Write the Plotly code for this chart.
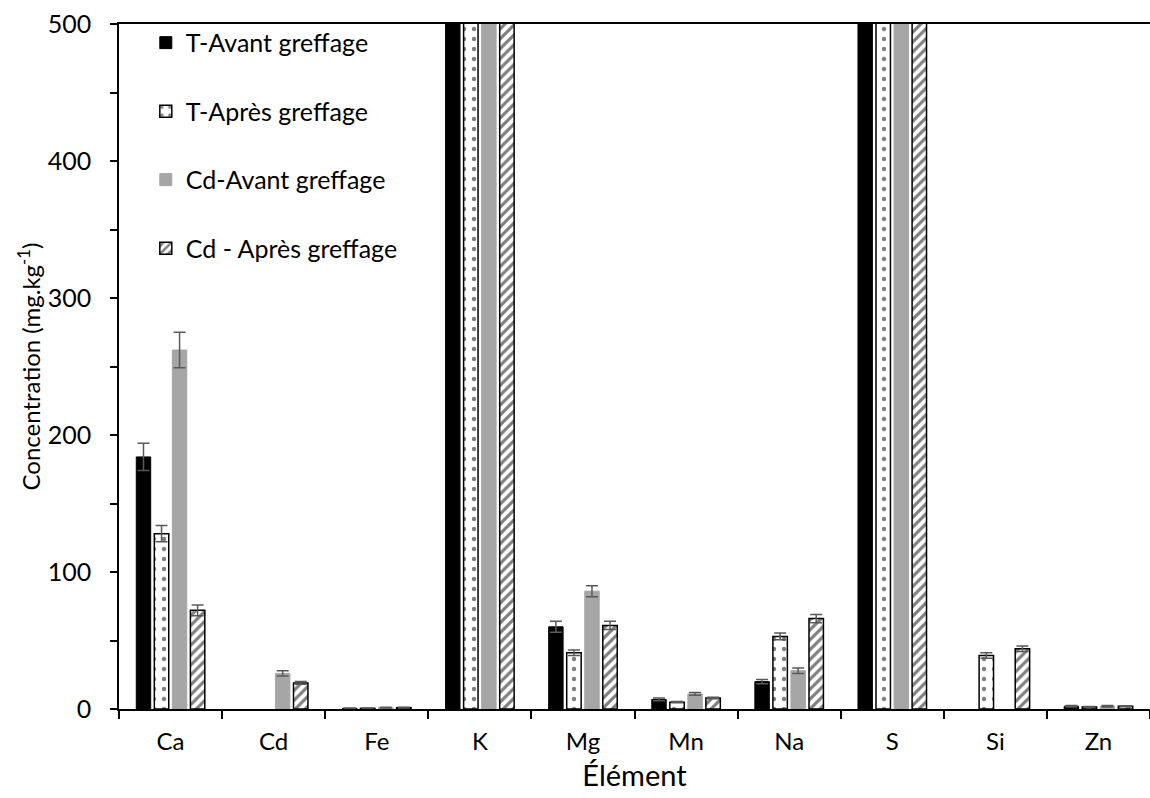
import plotly.graph_objects as go

ELEMENTS = ["Ca", "Cd", "Fe", "K", "Mg", "Mn", "Na", "S", "Si", "Zn"]

# K and S run far above the 500 mg/kg axis limit (clipped in the source)
# None = not detected (no bar drawn)
T_AVANT = [184, None, 0.5, 1500, 60, 7, 20, 1500, None, 2]
T_AVANT_ERR = [10, 0, 0.2, 0, 4, 1, 1.5, 0, 0, 0.5]
T_APRES = [128, None, 0.5, 1500, 41, 5, 53, 1500, 39, 1.5]
T_APRES_ERR = [6, 0, 0.2, 0, 2, 0.5, 2.5, 0, 2, 0.3]
CD_AVANT = [262, 26, 1, 1500, 86, 11, 28, 1500, None, 2]
CD_AVANT_ERR = [13, 2, 0.2, 0, 4, 1, 2, 0, 0, 0.5]
CD_APRES = [72, 19, 1, 1500, 61, 8, 66, 1500, 44, 2]
CD_APRES_ERR = [4, 1, 0.2, 0, 3, 0.5, 3, 0, 2, 0.4]

SERIES = [
    ("T-Avant greffage", T_AVANT, T_AVANT_ERR, "#000000", ""),
    ("T-Après greffage", T_APRES, T_APRES_ERR, "#ffffff", "."),
    ("Cd-Avant greffage", CD_AVANT, CD_AVANT_ERR, "#a6a6a6", ""),
    ("Cd - Après greffage", CD_APRES, CD_APRES_ERR, "#ffffff", "/"),
]

FONT = "Lato"

fig = go.Figure()
for i, (name, vals, errs, color, shape) in enumerate(SERIES):
    if shape == ".":
        marker = dict(
            color=color,
            pattern=dict(shape=".", fgcolor="#000000", bgcolor="#ffffff", size=10, solidity=0.15),
            line=dict(color="#000000", width=1.5),
        )
    elif shape == "/":
        marker = dict(
            color=color,
            pattern=dict(shape="/", fgcolor="#000000", bgcolor="#ffffff", size=7, solidity=0.45),
            line=dict(color="#000000", width=1.5),
        )
    else:
        marker = dict(color=color, line=dict(color=color, width=1))
    fig.add_trace(go.Bar(
        x=ELEMENTS,
        y=vals,
        name=name,
        legendgroup=f"g{i}",
        marker=marker,
        error_y=dict(type="data", array=errs, color="#595959", thickness=1.5, width=6),
    ))

fig.update_layout(
    width=1150,
    height=798,
    barmode="group",
    bargap=0.3,
    bargroupgap=0.2,
    plot_bgcolor="white",
    paper_bgcolor="white",
    margin=dict(l=119, r=0, t=24, b=89),
    font=dict(family=FONT, size=24, color="#000000"),
    legend=dict(
        x=0.026, y=1.006, xanchor="left", yanchor="top",
        font=dict(family=FONT, size=25),
        tracegroupgap=33,
        bgcolor="rgba(0,0,0,0)",
        itemwidth=30,
    ),
    showlegend=True,
)

fig.update_xaxes(
    automargin=False,
    showline=True, linecolor="#000000", linewidth=1.5, mirror=True,
    ticks="outside", tickson="boundaries", ticklen=8, tickcolor="#000000", tickwidth=1.5,
    ticklabelstandoff=10,
    tickfont=dict(family=FONT, size=24),
    title=dict(text="Élément", font=dict(family=FONT, size=29), standoff=12),
    showgrid=False,
)
fig.update_yaxes(
    automargin=False,
    range=[0, 500],
    dtick=100,
    showline=True, linecolor="#000000", linewidth=1.5,
    ticks="outside", ticklen=7, tickcolor="#000000", tickwidth=1.5,
    ticklabelstandoff=14,
    minor=dict(dtick=50, ticks="outside", ticklen=7, tickcolor="#000000", tickwidth=1.5),
    tickfont=dict(family=FONT, size=25),
    title=dict(text="Concentration (mg.kg<sup>-1</sup>)", font=dict(family=FONT, size=24), standoff=0),
    showgrid=False,
    zeroline=False,
)

# drop the default 8px body margin so the figure fills the window exactly
fig.write_html(
    "out.html",
    config={"displayModeBar": False},
    post_script="document.body.style.margin='0';",
)
